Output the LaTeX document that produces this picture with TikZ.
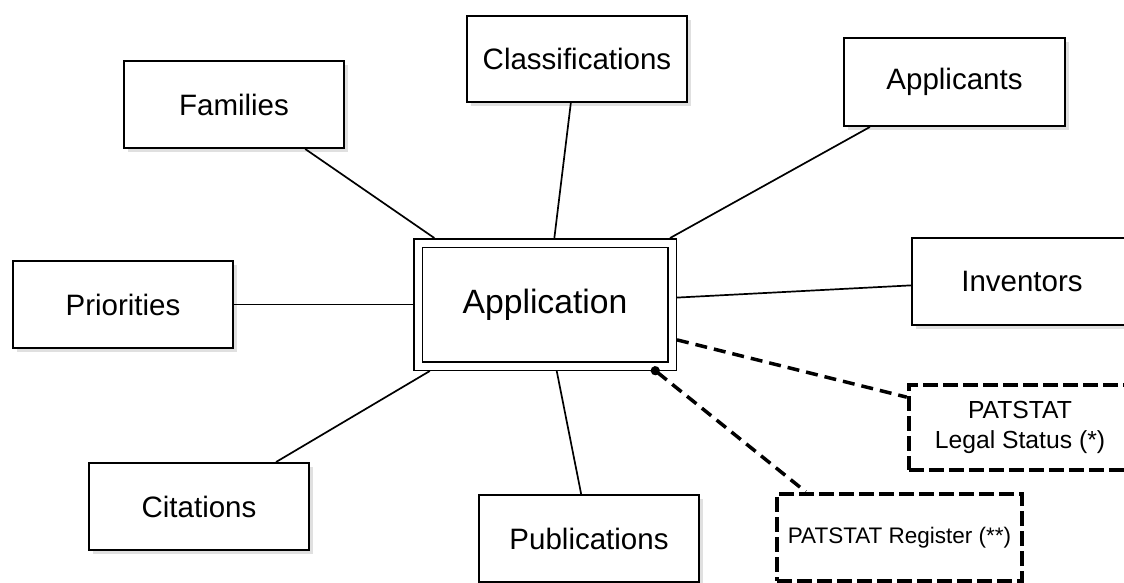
\documentclass[tikz,border=0pt]{standalone}
\usepackage{fontspec}
\setmainfont{Liberation Sans}
\usetikzlibrary{arrows.meta}
\usetikzlibrary{shadows}
\tikzset{
    entity/.style={
        draw,
        rectangle,
        fill=white,
        line width=2pt,
        minimum width=220pt,
        minimum height=87pt,
        inner sep=2pt,
        font=\fontsize{29.5}{34}\selectfont,
        drop shadow={shadow xshift=4pt, shadow yshift=-4pt, fill=black, opacity=0.12}
    },
    link/.style={
        draw=black,
        line width=1.7pt
    }
}

\begin{document}
\begin{tikzpicture}[x=1pt, y=-1pt]
  % Define styles for the external sources
  \tikzset{
    extbox/.style={
      draw,
      rectangle,
      fill=white,
      line width=4.5pt,
      dash pattern=on 15pt off 5pt,
      inner sep=2pt,
      align=center
    },
    extlink/.style={
      draw=black,
      line width=3.5pt,
      dash pattern=on 12pt off 7pt
    }
  }

  % Frame of the picture
  \useasboundingbox (0,0) rectangle (1124,583);
  \clip (0,0) rectangle (1124,583);

  % Central table
  \node[entity, double, double distance=7pt, line width=1.8pt,
        minimum width=254pt, minimum height=123pt, outer sep=5pt,
        font=\fontsize{33.7}{38}\selectfont] (app) at (545,304.5) {Application};

  % Related tables around it
  \node[entity] (fam)  at (234,104.5)  {Families};
  \node[entity, minimum height=86pt] (cls) at (577,59) {Classifications};
  \node[entity, minimum width=221pt, minimum height=88pt] (apl) at (954.5,82) {Applicants};
  \node[entity] (prio) at (123,304.5)  {Priorities};
  \node[entity] (inv)  at (1022,281.5) {Inventors};
  \node[entity] (cit)  at (199,506.5)  {Citations};
  \node[entity] (pub)  at (589,538.5)  {Publications};

  % External sources
  \node[extbox, minimum width=222pt, minimum height=85pt,
        font=\fontsize{24.7}{30}\selectfont] (legal) at (1020,427.5) {PATSTAT\\Legal Status (*)};
  \node[extbox, minimum width=245pt, minimum height=87pt,
        font=\fontsize{22.5}{26}\selectfont] (reg) at (899.5,537.5) {PATSTAT Register (**)};

  % Connect tables to the application
  \foreach \a/\b in {fam.-32/app.149, cls.-98/app.82, apl.-152/app.28,
                     prio.east/app.west, inv.182/app.3, cit.30/app.-150,
                     pub.100/app.-80} {
    \draw[link] (\a) -- (\b);
  }

  % Dashed links to external sources
  \draw[extlink] (app.-15) -- (legal.165);
  \draw[extlink, {Circle[length=9pt, width=9pt, sep=-5pt]}-] (app.-31) -- (reg.154);
\end{tikzpicture}
\end{document}
